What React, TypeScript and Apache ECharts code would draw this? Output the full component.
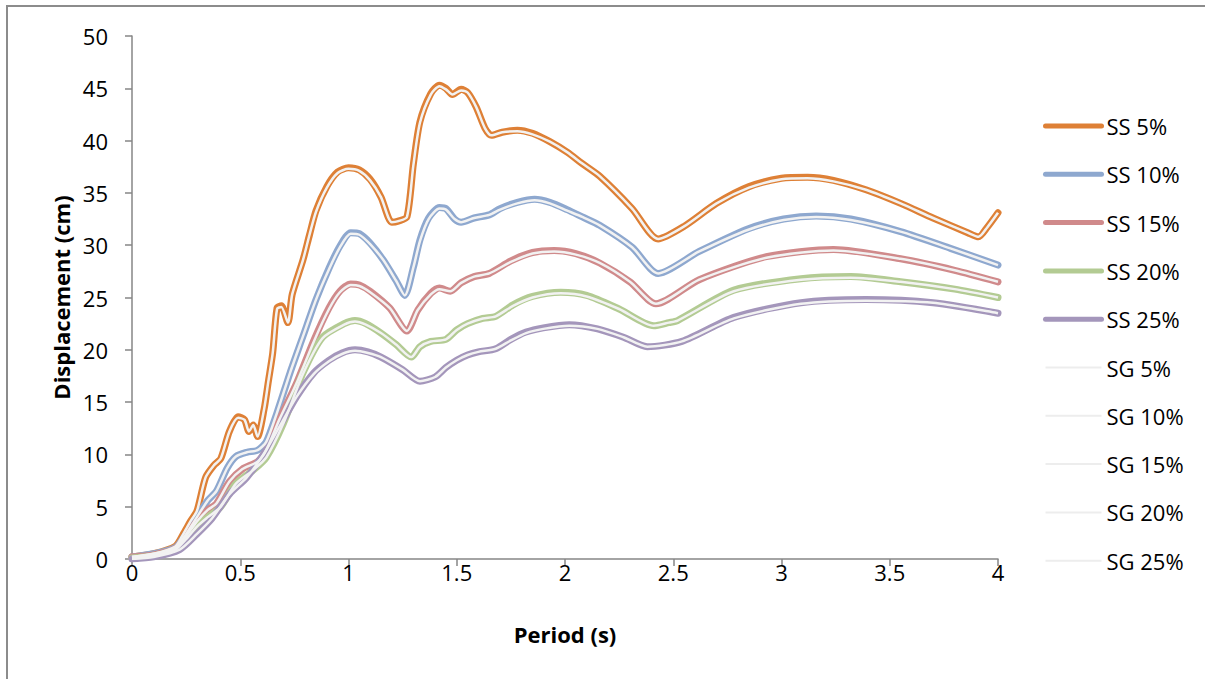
import React, { useEffect, useRef } from "react";
import * as echarts from "echarts";

const seriesNames = ["SS 5%", "SS 10%", "SS 15%", "SS 20%", "SS 25%", "SG 5%", "SG 10%", "SG 15%", "SG 20%", "SG 25%"];
const ssColors = ["#DE8036", "#8EA8CF", "#D08A8B", "#B3CB93", "#A496BB"];
const sgColor = "#F2F2F2";

const xTicks = { min: 0, max: 4, interval: 0.5 };
const yTicks = { min: 0, max: 50, interval: 5 };

const ss5: number[][] = [
  [0, 0.2], [0.1, 0.5], [0.2, 1.2], [0.24, 2.5], [0.27, 3.6], [0.3, 4.6], [0.34, 7.8], [0.38, 9.0], [0.41, 9.6],
  [0.45, 12.2], [0.49, 13.6], [0.52, 13.3], [0.54, 12.2], [0.56, 12.8], [0.58, 11.7], [0.61, 14.3], [0.63, 17.0],
  [0.65, 19.7], [0.67, 24.0], [0.69, 24.2], [0.72, 22.6], [0.74, 25.3], [0.79, 28.6], [0.82, 31.0], [0.85, 33.3],
  [0.9, 35.6], [0.95, 37.0], [1.0, 37.4], [1.05, 37.2], [1.1, 36.3], [1.15, 34.6], [1.2, 32.2], [1.23, 32.3],
  [1.27, 32.7], [1.3, 37.8], [1.33, 41.8], [1.38, 44.5], [1.42, 45.3], [1.45, 45.0], [1.48, 44.4], [1.52, 44.9],
  [1.55, 44.6], [1.59, 43.2], [1.63, 41.2], [1.66, 40.5], [1.71, 40.8], [1.78, 41.0], [1.85, 40.7], [1.93, 39.9],
  [2.01, 38.9], [2.08, 37.8], [2.16, 36.6], [2.31, 33.5], [2.43, 30.6], [2.55, 31.8], [2.7, 34.0], [2.85, 35.6],
  [3.0, 36.4], [3.12, 36.5], [3.24, 36.2], [3.39, 35.3], [3.55, 34.0], [3.7, 32.6], [3.86, 31.2], [3.91, 30.8],
  [3.95, 31.7], [4.0, 33.1],
];
const ss10: number[][] = [
  [0, 0.2], [0.1, 0.5], [0.2, 1.1], [0.25, 2.4], [0.3, 4.0], [0.35, 5.6], [0.39, 6.5], [0.44, 8.7], [0.48, 9.8],
  [0.53, 10.2], [0.58, 10.4], [0.62, 11.2], [0.67, 14.0], [0.73, 17.8], [0.79, 21.3], [0.85, 24.8], [0.91, 27.8],
  [0.96, 29.9], [1.01, 31.2], [1.05, 31.1], [1.1, 30.2], [1.16, 28.6], [1.22, 26.6], [1.26, 25.2], [1.3, 27.9],
  [1.33, 30.5], [1.37, 32.6], [1.42, 33.6], [1.45, 33.5], [1.49, 32.5], [1.52, 32.2], [1.58, 32.6], [1.65, 32.9],
  [1.7, 33.5], [1.78, 34.1], [1.86, 34.4], [1.93, 34.1], [2.01, 33.4], [2.08, 32.7], [2.16, 31.9], [2.31, 29.8],
  [2.43, 27.3], [2.62, 29.4], [2.85, 31.6], [3.01, 32.5], [3.16, 32.8], [3.32, 32.5], [3.55, 31.3], [3.78, 29.7],
  [4.0, 28.1],
];
const ss15: number[][] = [
  [0, 0.2], [0.1, 0.4], [0.2, 1.0], [0.25, 2.2], [0.3, 3.6], [0.35, 4.7], [0.39, 5.3], [0.45, 7.4], [0.51, 8.6],
  [0.58, 9.3], [0.62, 10.4], [0.68, 13.3], [0.76, 16.8], [0.84, 20.9], [0.91, 24.0], [0.96, 25.6], [1.01, 26.3],
  [1.05, 26.2], [1.1, 25.6], [1.19, 24.0], [1.27, 21.8], [1.32, 23.8], [1.38, 25.4], [1.42, 25.9], [1.47, 25.6],
  [1.52, 26.4], [1.58, 27.0], [1.65, 27.3], [1.75, 28.5], [1.85, 29.3], [1.95, 29.5], [2.05, 29.2], [2.16, 28.3],
  [2.3, 26.5], [2.42, 24.4], [2.62, 26.7], [2.93, 28.9], [3.24, 29.6], [3.55, 28.7], [3.8, 27.6], [4.0, 26.5],
];
const ss20: number[][] = [
  [0, 0.1], [0.1, 0.3], [0.2, 0.9], [0.25, 1.9], [0.3, 3.1], [0.35, 4.0], [0.41, 5.0], [0.48, 7.2], [0.56, 8.5],
  [0.62, 9.7], [0.7, 13.0], [0.79, 17.8], [0.88, 21.2], [0.98, 22.5], [1.03, 22.8], [1.08, 22.5], [1.15, 21.6],
  [1.22, 20.5], [1.29, 19.3], [1.33, 20.3], [1.38, 20.8], [1.45, 21.0], [1.5, 21.9], [1.55, 22.5], [1.62, 23.0],
  [1.68, 23.2], [1.76, 24.3], [1.85, 25.1], [1.98, 25.5], [2.1, 25.2], [2.25, 23.9], [2.41, 22.3], [2.48, 22.6],
  [2.52, 22.8], [2.78, 25.7], [3.09, 26.8], [3.32, 27.0], [3.55, 26.5], [3.8, 25.8], [4.0, 25.0],
];
const ss25: number[][] = [
  [0, 0.0], [0.1, 0.2], [0.22, 0.9], [0.3, 2.4], [0.37, 3.9], [0.45, 6.2], [0.53, 7.8], [0.61, 10.1], [0.68, 12.6],
  [0.76, 15.5], [0.84, 17.8], [0.91, 19.0], [0.97, 19.7], [1.03, 20.0], [1.09, 19.8], [1.15, 19.3], [1.25, 18.1],
  [1.33, 17.0], [1.4, 17.4], [1.45, 18.3], [1.5, 19.0], [1.55, 19.5], [1.6, 19.8], [1.68, 20.1], [1.75, 21.0],
  [1.82, 21.7], [1.9, 22.1], [2.02, 22.4], [2.15, 22.0], [2.27, 21.2], [2.38, 20.3], [2.54, 20.8], [2.78, 23.1],
  [3.09, 24.5], [3.39, 24.8], [3.7, 24.5], [4.0, 23.5],
];

const sg5: number[][] = [
  [0, 0.2], [0.1, 0.5], [0.2, 1.2], [0.24, 2.5], [0.27, 3.6], [0.3, 4.6], [0.34, 7.8], [0.38, 9.0], [0.41, 9.6],
  [0.45, 12.2], [0.49, 13.5], [0.52, 13.3], [0.54, 12.2], [0.56, 12.8], [0.58, 11.7], [0.61, 14.3], [0.63, 17.0],
  [0.65, 19.7], [0.67, 23.9], [0.69, 24.1], [0.72, 22.6], [0.74, 25.3], [0.79, 28.6], [0.82, 31.0], [0.85, 33.2],
  [0.9, 35.5], [0.95, 36.9], [1.0, 37.3], [1.05, 37.1], [1.1, 36.2], [1.15, 34.6], [1.2, 32.2], [1.23, 32.3],
  [1.27, 32.7], [1.3, 37.7], [1.33, 41.7], [1.38, 44.4], [1.42, 45.2], [1.45, 44.9], [1.48, 44.4], [1.52, 44.8],
  [1.55, 44.6], [1.59, 43.2], [1.63, 41.2], [1.66, 40.5], [1.71, 40.8], [1.78, 40.9], [1.85, 40.6], [1.93, 39.9],
  [2.01, 38.9], [2.08, 37.8], [2.16, 36.6], [2.31, 33.5], [2.43, 30.6], [2.55, 31.8], [2.7, 34.0], [2.85, 35.5],
  [3.0, 36.3], [3.12, 36.4], [3.24, 36.1], [3.39, 35.3], [3.55, 34.0], [3.7, 32.6], [3.86, 31.2], [3.91, 30.8],
  [3.95, 31.7], [4.0, 33.1],
];
const sg10: number[][] = [
  [0, 0.2], [0.1, 0.5], [0.2, 1.1], [0.25, 2.4], [0.3, 4.0], [0.35, 5.6], [0.39, 6.5], [0.44, 8.7], [0.48, 9.8],
  [0.53, 10.2], [0.58, 10.4], [0.62, 11.2], [0.67, 14.0], [0.73, 17.8], [0.79, 21.3], [0.85, 24.8], [0.91, 27.7],
  [0.96, 29.8], [1.01, 31.1], [1.05, 31.0], [1.1, 30.1], [1.16, 28.6], [1.22, 26.6], [1.26, 25.2], [1.3, 27.9],
  [1.33, 30.4], [1.37, 32.5], [1.42, 33.5], [1.45, 33.4], [1.49, 32.5], [1.52, 32.2], [1.58, 32.6], [1.65, 32.9],
  [1.7, 33.4], [1.78, 34.0], [1.86, 34.3], [1.93, 34.0], [2.01, 33.3], [2.08, 32.7], [2.16, 31.9], [2.31, 29.8],
  [2.43, 27.3], [2.62, 29.4], [2.85, 31.5], [3.01, 32.4], [3.16, 32.7], [3.32, 32.4], [3.55, 31.3], [3.78, 29.7],
  [4.0, 28.1],
];
const sg15: number[][] = [
  [0, 0.2], [0.1, 0.4], [0.2, 1.0], [0.25, 2.2], [0.3, 3.6], [0.35, 4.7], [0.39, 5.3], [0.45, 7.4], [0.51, 8.6],
  [0.58, 9.3], [0.62, 10.4], [0.68, 13.3], [0.76, 16.8], [0.84, 20.8], [0.91, 23.9], [0.96, 25.5], [1.01, 26.2],
  [1.05, 26.1], [1.1, 25.5], [1.19, 24.0], [1.27, 21.8], [1.32, 23.8], [1.38, 25.3], [1.42, 25.8], [1.47, 25.6],
  [1.52, 26.4], [1.58, 27.0], [1.65, 27.3], [1.75, 28.4], [1.85, 29.2], [1.95, 29.4], [2.05, 29.1], [2.16, 28.3],
  [2.3, 26.5], [2.42, 24.4], [2.62, 26.7], [2.93, 28.8], [3.24, 29.5], [3.55, 28.7], [3.8, 27.6], [4.0, 26.5],
];
const sg20: number[][] = [
  [0, 0.1], [0.1, 0.3], [0.2, 0.9], [0.25, 1.9], [0.3, 3.1], [0.35, 4.0], [0.41, 5.0], [0.48, 7.2], [0.56, 8.5],
  [0.62, 9.7], [0.7, 13.0], [0.79, 17.7], [0.88, 21.1], [0.98, 22.4], [1.03, 22.7], [1.08, 22.4], [1.15, 21.6],
  [1.22, 20.5], [1.29, 19.3], [1.33, 20.3], [1.38, 20.8], [1.45, 21.0], [1.5, 21.9], [1.55, 22.5], [1.62, 23.0],
  [1.68, 23.2], [1.76, 24.2], [1.85, 25.0], [1.98, 25.4], [2.1, 25.1], [2.25, 23.9], [2.41, 22.3], [2.48, 22.6],
  [2.52, 22.8], [2.78, 25.6], [3.09, 26.7], [3.32, 26.9], [3.55, 26.5], [3.8, 25.8], [4.0, 25.0],
];
const sg25: number[][] = [
  [0, 0.0], [0.1, 0.2], [0.22, 0.9], [0.3, 2.4], [0.37, 3.9], [0.45, 6.2], [0.53, 7.8], [0.61, 10.1], [0.68, 12.6],
  [0.76, 15.5], [0.84, 17.7], [0.91, 18.9], [0.97, 19.6], [1.03, 19.9], [1.09, 19.7], [1.15, 19.3], [1.25, 18.1],
  [1.33, 17.0], [1.4, 17.4], [1.45, 18.3], [1.5, 19.0], [1.55, 19.5], [1.6, 19.8], [1.68, 20.1], [1.75, 20.9],
  [1.82, 21.6], [1.9, 22.0], [2.02, 22.3], [2.15, 22.0], [2.27, 21.2], [2.38, 20.3], [2.54, 20.8], [2.78, 23.0],
  [3.09, 24.4], [3.39, 24.7], [3.7, 24.5], [4.0, 23.5],
];

const ssData = [ss5, ss10, ss15, ss20, ss25];
const sgData = [sg5, sg10, sg15, sg20, sg25];

const FONT = "'Open Sans', sans-serif";
const hiddenSymbol = { color: "rgba(0,0,0,0)", borderColor: "rgba(0,0,0,0)", borderWidth: 0, opacity: 0 };

export default function App() {
  const ref = useRef<HTMLDivElement>(null);
  useEffect(() => {
    document.body.style.margin = "0";
    if (!ref.current) return;
    const chart = echarts.init(ref.current, null, { renderer: "svg" });
    const series: any[] = [];
    ssData.forEach((d, i) => {
      series.push({
        name: seriesNames[i],
        type: "line",
        data: d,
        smooth: 0.25,
        symbol: "none",
        lineStyle: { color: ssColors[i], width: 7, cap: "round", join: "round" },
        itemStyle: { color: ssColors[i] },
        z: 2,
      });
    });
    sgData.forEach((d, i) => {
      series.push({
        name: seriesNames[i + 5],
        type: "line",
        data: d,
        smooth: 0.25,
        symbol: "none",
        lineStyle: { color: sgColor, width: 2.5, join: "round" },
        itemStyle: { color: sgColor },
        z: 3,
      });
    });
    chart.setOption({
      animation: false,
      backgroundColor: "#ffffff",
      textStyle: { fontFamily: FONT },
      grid: { left: 132, top: 36, right: 207, bottom: 120, containLabel: false },
      graphic: [
        {
          type: "rect",
          shape: { x: 7, y: 6, width: 1400, height: 900 },
          style: { fill: "none", stroke: "#8C8C8C", lineWidth: 2 },
          silent: true,
          z: 0,
        },
      ],
      legend: {
        orient: "vertical",
        left: 1038,
        top: 110,
        itemWidth: 56,
        itemHeight: 20,
        itemGap: 26.3,
        textStyle: { fontFamily: FONT, fontSize: 22, color: "#000", lineHeight: 20 },
        data: seriesNames.map((n, i) =>
          i < 5
            ? { name: n, lineStyle: { width: 5, color: ssColors[i], cap: "round" }, itemStyle: hiddenSymbol }
            : { name: n, lineStyle: { width: 2, color: "#EDEDED" }, itemStyle: hiddenSymbol }
        ),
      },
      xAxis: {
        type: "value",
        min: xTicks.min,
        max: xTicks.max,
        interval: xTicks.interval,
        name: "Period (s)",
        nameLocation: "middle",
        nameGap: 64,
        nameTextStyle: { fontFamily: FONT, fontSize: 22, fontWeight: "bold", color: "#000" },
        axisLine: { show: true, lineStyle: { color: "#868686", width: 1.5 } },
        axisTick: { show: true, inside: false, length: 7, lineStyle: { color: "#868686", width: 1.5 } },
        axisLabel: { fontFamily: FONT, fontSize: 22, color: "#000", margin: 2 },
        splitLine: { show: false },
      },
      yAxis: {
        type: "value",
        min: yTicks.min,
        max: yTicks.max,
        interval: yTicks.interval,
        name: "Displacement (cm)",
        nameLocation: "middle",
        nameGap: 58,
        nameRotate: 90,
        nameTextStyle: { fontFamily: FONT, fontSize: 22, fontWeight: "bold", color: "#000" },
        axisLine: { show: true, lineStyle: { color: "#868686", width: 1.5 } },
        axisTick: { show: true, inside: false, length: 7, lineStyle: { color: "#868686", width: 1.5 } },
        axisLabel: { fontFamily: FONT, fontSize: 22, color: "#000", margin: 24 },
        splitLine: { show: false },
      },
      series,
    });
    return () => chart.dispose();
  }, []);
  return <div ref={ref} style={{ width: 1205, height: 679 }} />;
}
